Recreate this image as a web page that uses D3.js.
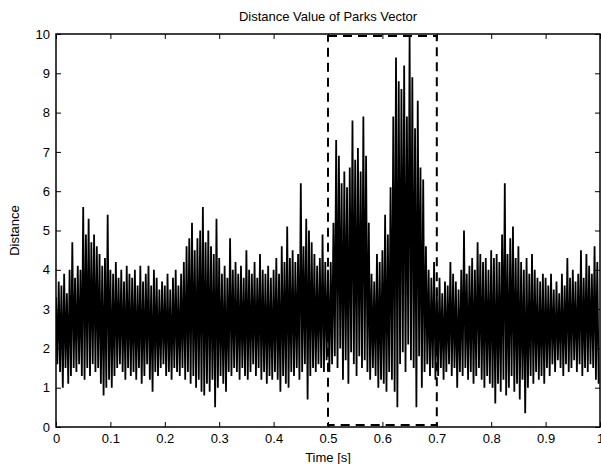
<!DOCTYPE html>
<html>
<head>
<meta charset="utf-8">
<script src="https://cdn.jsdelivr.net/npm/d3@7"></script>
<style>
  body { margin: 0; background: white; }
  text { font-family: Arial, "Liberation Sans", sans-serif; fill: black; }
</style>
</head>
<body>
<svg id="chart" width="601" height="464"></svg>
<script>
// upper / lower swings of the signal, one pair every 0.005 s
const peaks = [
  3.3, 3.7, 3.6, 3.9, 3.4, 4.0, 4.7, 3.8, 4.1, 4.0, 5.6, 4.9, 5.3, 4.7, 4.9, 4.6, 4.4, 4.1, 4.3, 5.4,
  4.0, 3.9, 4.2, 3.8, 4.0, 3.7, 4.1, 3.9, 3.8, 4.0, 3.6, 4.1, 3.7, 3.9, 4.1, 3.6, 4.0, 3.8, 3.5, 3.7,
  3.6, 3.9, 3.5, 3.8, 4.0, 3.6, 3.9, 4.2, 4.6, 4.8, 5.2, 4.5, 4.8, 5.0, 5.6, 4.7, 5.0, 4.6, 4.4, 5.3,
  4.3, 3.9, 4.1, 3.8, 4.8, 4.0, 4.2, 3.9, 4.1, 3.8, 4.5, 4.0, 3.9, 4.2, 3.8, 4.4, 4.0, 3.9, 4.1, 3.8,
  4.0, 4.3, 3.9, 4.6, 4.2, 5.1, 4.3, 4.5, 4.2, 4.4, 6.2, 4.6, 5.3, 5.0, 4.7, 4.4, 4.1, 4.3, 4.9, 4.2,
  4.0, 4.2, 5.2, 7.3, 6.9, 6.2, 6.5, 6.1, 6.6, 7.8, 6.8, 7.1, 6.5, 7.9, 6.9, 5.2, 3.9, 3.7, 4.4, 4.2,
  4.5, 5.4, 4.9, 6.1, 7.9, 9.4, 8.8, 8.6, 9.2, 7.9, 9.95, 8.9, 7.6, 8.3, 6.6, 6.3, 4.6, 4.0, 3.8, 4.2,
  3.5, 3.8, 3.4, 3.7, 3.6, 4.2, 3.9, 3.7, 3.5, 4.0, 5.0, 3.9, 4.1, 4.3, 4.0, 4.7, 4.4, 4.2, 4.3, 4.0,
  4.5, 4.3, 4.4, 4.2, 4.9, 6.2, 4.4, 4.8, 5.1, 4.3, 4.6, 4.2, 4.0, 4.3, 3.9, 4.4, 4.0, 3.8, 3.7, 3.9,
  3.8, 3.6, 3.9, 3.5, 3.7, 3.4, 3.9, 3.6, 4.3, 3.8, 4.0, 3.7, 3.9, 4.5, 3.8, 4.4, 4.1, 3.9, 4.6, 4.2
]
const troughs = [
  1.6, 1.4, 1.0, 1.5, 1.1, 1.3, 1.5, 1.4, 1.6, 1.3, 1.2, 1.5, 1.3, 1.6, 1.4, 1.5, 1.1, 0.8, 1.0, 1.2,
  1.0, 1.3, 1.5, 1.6, 1.4, 1.2, 1.5, 1.3, 1.4, 1.2, 1.5, 1.1, 1.3, 1.6, 1.2, 0.9, 1.4, 1.3, 1.5, 1.6,
  1.3, 1.4, 1.2, 1.5, 1.4, 1.3, 1.5, 1.2, 1.4, 1.1, 1.3, 1.0, 1.2, 0.9, 0.8, 1.1, 0.9, 1.2, 0.5, 1.0,
  1.3, 1.1, 0.9, 1.4, 1.3, 1.5, 1.4, 1.2, 1.5, 1.3, 1.2, 1.4, 1.6, 1.3, 1.5, 1.2, 1.4, 1.1, 1.3, 1.2,
  1.4, 1.2, 0.9, 1.3, 1.1, 1.0, 1.4, 1.3, 1.5, 1.2, 1.4, 1.6, 0.7, 1.3, 1.5, 1.4, 1.6, 1.5, 1.4, 1.7,
  1.4, 1.6, 1.8, 1.5, 2.0, 1.2, 1.7, 1.1, 1.9, 1.6, 1.3, 1.8, 1.5, 1.7, 1.4, 1.2, 1.5, 1.3, 1.0, 1.2,
  1.1, 0.9, 1.4, 1.2, 0.9, 0.5, 1.6, 1.9, 1.4, 2.1, 1.7, 1.5, 0.5, 1.8, 1.0, 1.4, 1.6, 1.3, 1.5, 1.2,
  1.3, 1.5, 1.2, 1.4, 1.6, 1.3, 1.5, 1.0, 1.4, 1.3, 1.5, 1.2, 1.4, 1.1, 1.3, 1.5, 1.2, 1.0, 1.3, 1.1,
  1.0, 0.6, 1.1, 0.9, 1.2, 0.8, 1.0, 1.3, 0.9, 1.1, 0.7, 1.2, 0.35, 1.0, 1.3, 1.1, 1.4, 1.2, 1.3, 1.1,
  1.5, 1.3, 1.6, 1.4, 1.7, 1.5, 1.3, 1.6, 1.4, 1.5, 1.7, 1.4, 1.6, 1.3, 1.5, 1.4, 1.6, 1.5, 1.2, 1.1
]
const step = 0.005
const xTicks = [0, 0.1, 0.2, 0.3, 0.4, 0.5, 0.6, 0.7, 0.8, 0.9, 1]
const yTicks = [0, 1, 2, 3, 4, 5, 6, 7, 8, 9, 10]
const windowStart = 0.5
const windowEnd = 0.7

let svg = d3.select("#chart")
let pLeft = 56, pRight = 600, pTop = 34, pBottom = 427

let x = d3.scaleLinear().domain([0, 1]).range([pLeft, pRight])
let y = d3.scaleLinear().domain([0, 10]).range([pBottom, pTop])

// interleave the swings into one trace
let signal = []
peaks.forEach((p, i) => {
  signal.push({ t: i * step, v: p })
  signal.push({ t: i * step + step / 2, v: troughs[i] })
})

svg.append("defs").append("clipPath").attr("id", "plotClip")
  .append("rect")
  .attr("x", pLeft).attr("y", pTop)
  .attr("width", pRight - pLeft).attr("height", pBottom - pTop)

svg.append("path")
  .datum(signal)
  .attr("clip-path", "url(#plotClip)")
  .attr("fill", "none")
  .attr("stroke", "black")
  .attr("stroke-width", 1.8)
  .attr("stroke-linejoin", "miter")
  .attr("d", d3.line()
    .x((d) => { return x(d.t) })
    .y((d) => { return y(d.v) }))

// dashed box round the fault window
svg.append("rect")
  .attr("x", x(windowStart))
  .attr("y", y(9.95))
  .attr("width", x(windowEnd) - x(windowStart))
  .attr("height", y(0.05) - y(9.95))
  .attr("fill", "none")
  .attr("stroke", "black")
  .attr("stroke-width", 2)
  .attr("stroke-dasharray", "9,6")

const fmt = (d) => { return d3.format("~g")(d) }

svg.append("g")
  .attr("transform", "translate(0," + pBottom + ")")
  .call(d3.axisBottom(x).tickValues(xTicks).tickSize(-5).tickPadding(7).tickFormat(fmt))
svg.append("g")
  .attr("transform", "translate(0," + pTop + ")")
  .call(d3.axisTop(x).tickValues(xTicks).tickSize(-5).tickFormat(""))
svg.append("g")
  .attr("transform", "translate(" + pLeft + ",0)")
  .call(d3.axisLeft(y).tickValues(yTicks).tickSize(-5).tickPadding(6).tickFormat(fmt))
svg.append("g")
  .attr("transform", "translate(" + pRight + ",0)")
  .call(d3.axisRight(y).tickValues(yTicks).tickSize(-5).tickFormat(""))

svg.selectAll(".domain").remove()
svg.selectAll(".tick line").attr("stroke", "black")
svg.selectAll(".tick text").style("font-size", "13px").attr("font-family", null)

svg.append("rect")
  .attr("x", pLeft).attr("y", pTop)
  .attr("width", pRight - pLeft).attr("height", pBottom - pTop)
  .attr("fill", "none")
  .attr("stroke", "black")
  .attr("stroke-width", 1.5)

svg.append("text")
  .text("Distance Value of Parks Vector")
  .attr("x", (pLeft + pRight) / 2)
  .attr("y", 21)
  .attr("text-anchor", "middle")
  .style("font-size", "13px")

svg.append("text")
  .text("Time [s]")
  .attr("x", (pLeft + pRight) / 2)
  .attr("y", 462)
  .attr("text-anchor", "middle")
  .style("font-size", "13px")

svg.append("text")
  .text("Distance")
  .attr("transform", "translate(19," + ((pTop + pBottom) / 2) + ") rotate(-90)")
  .attr("text-anchor", "middle")
  .style("font-size", "13px")
</script>
</body>
</html>
